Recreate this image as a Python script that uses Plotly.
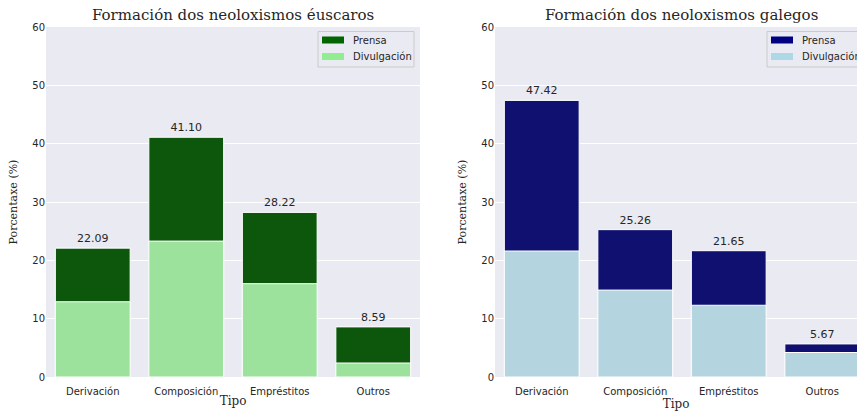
import plotly.graph_objects as go

categories = ["Derivación", "Composición", "Empréstitos", "Outros"]

eus_prensa = [22.09, 41.10, 28.22, 8.59]
eus_divulgacion = [12.9, 23.3, 16.0, 2.4]

gal_prensa = [47.42, 25.26, 21.65, 5.67]
gal_divulgacion = [21.6, 14.9, 12.3, 4.2]

series_names = ["Prensa", "Divulgación"]
y_ticks = [0, 10, 20, 30, 40, 50, 60]

W, H = 857, 411
PLOT_L, PLOT_T, PLOT_B = 46, 27, 377          # window pixels
ML, MR, MT, MB = PLOT_L, 0, PLOT_T, H - PLOT_B
PW = W - ML - MR
PH = PLOT_B - PLOT_T

def px(x):
    return (x - PLOT_L) / PW

def py(y):
    return (PLOT_B - y) / PH

BG = "#eaeaf2"
TXT = "#262626"
SERIF = "DejaVu Serif"
tick_font = dict(family="DejaVu Sans", size=10, color=TXT)

fig = go.Figure()
shapes, annotations = [], []

def add_pair(prensa, divul, dark, light, leg_dark, leg_light, xa, ya, leg_left):
    fig.add_trace(go.Bar(
        x=categories, y=prensa, name=series_names[0],
        marker=dict(color=dark, line=dict(color="white", width=1)),
        text=[f"{v:.2f}" for v in prensa], textposition="outside",
        textfont=dict(family="DejaVu Sans", size=11, color=TXT),
        cliponaxis=False, xaxis=xa, yaxis=ya, width=0.8))
    fig.add_trace(go.Bar(
        x=categories, y=divul, name=series_names[1],
        marker=dict(color=light, line=dict(color="white", width=1)),
        xaxis=xa, yaxis=ya, width=0.8))
    # seaborn-style legend box (clipped at the window edge for the right panel)
    shapes.append(dict(type="rect", xref="paper", yref="paper",
                       x0=px(leg_left), x1=px(leg_left + 96), y0=py(67), y1=py(31.5),
                       fillcolor=BG, line=dict(color="#cccccc", width=1), layer="above"))
    for i, (name, col) in enumerate(zip(series_names, [leg_dark, leg_light])):
        yc = 40 + i * 16.5
        shapes.append(dict(type="rect", xref="paper", yref="paper",
                           x0=px(leg_left + 4), x1=px(leg_left + 26), y0=py(yc + 3.5), y1=py(yc - 3.5),
                           fillcolor=col, line=dict(width=0), layer="above"))
        annotations.append(dict(text=name, x=px(leg_left + 33), y=py(yc), xref="paper", yref="paper",
                                xanchor="left", yanchor="middle", showarrow=False,
                                font=dict(family="DejaVu Sans", size=10, color=TXT)))

add_pair(eus_prensa, eus_divulgacion, "#0d570d", "#9ce29c", "#006400", "#90ee90", "x", "y", 318)
add_pair(gal_prensa, gal_divulgacion, "#101070", "#b4d4df", "#000080", "#add8e6", "x2", "y2", 767)

# right panel is clipped at the window edge
cat_px = 93.5
r_left = 495
r_range_max = -0.5 + (W - r_left) / cat_px

axis_common = dict(showline=False, zeroline=False, ticks="", tickfont=tick_font, automargin=False)
xtitle = dict(text="Tipo", font=dict(family=SERIF, size=12, color=TXT), standoff=0)
ytitle = dict(text="Porcentaxe (%)", font=dict(family=SERIF, size=11, color=TXT), standoff=12)

annotations += [
    dict(text="Formación dos neoloxismos éuscaros", x=px(233), y=1, xref="paper", yref="paper",
         xanchor="center", yanchor="middle", yshift=12, showarrow=False,
         font=dict(family=SERIF, size=15, color=TXT)),
    dict(text="Formación dos neoloxismos galegos", x=px(681.5), y=1, xref="paper", yref="paper",
         xanchor="center", yanchor="middle", yshift=12, showarrow=False,
         font=dict(family=SERIF, size=15, color=TXT)),
]

fig.update_layout(
    width=W, height=H,
    margin=dict(l=ML, r=MR, t=MT, b=MB),
    paper_bgcolor="white", plot_bgcolor=BG,
    barmode="overlay", bargap=0.2,
    showlegend=False,
    xaxis=dict(domain=[0, px(420)], range=[-0.5, 3.5], showgrid=False, anchor="y",
               ticklabelstandoff=7, title=xtitle, **axis_common),
    yaxis=dict(domain=[0, 1], range=[0, 60], tickvals=y_ticks, gridcolor="white", gridwidth=1, anchor="x",
               title=ytitle, **axis_common),
    xaxis2=dict(domain=[px(r_left), 1], range=[-0.5, r_range_max], showgrid=False, anchor="y2",
                ticklabelstandoff=7, title=xtitle, **axis_common),
    yaxis2=dict(domain=[0, 1], range=[0, 60], tickvals=y_ticks, gridcolor="white", gridwidth=1, anchor="x2",
                title=ytitle, **axis_common),
    shapes=shapes,
    annotations=annotations,
)

fig.write_html(
    "out.html",
    config={"displayModeBar": False},
    post_script="document.body.style.margin='0';document.documentElement.style.overflow='hidden';"
                "document.body.style.overflow='hidden';",
)
